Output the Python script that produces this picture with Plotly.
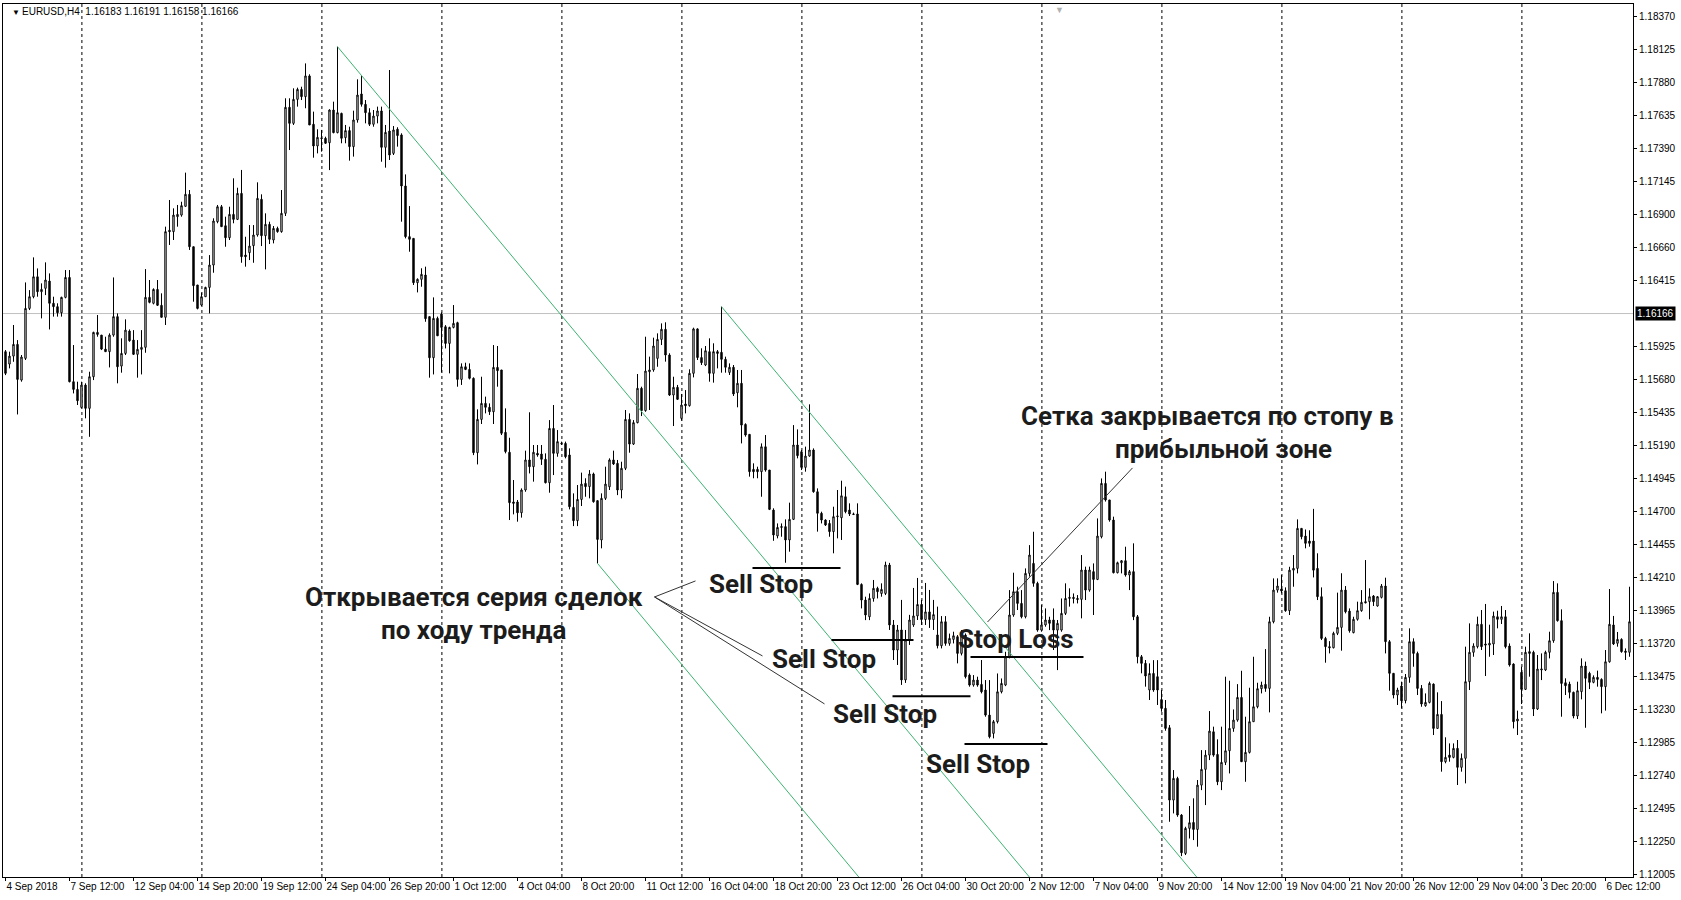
import plotly.graph_objects as go

# --- EURUSD H4 candles (price units) ---
opens = [
    1.15883, 1.15791, 1.15850, 1.15937, 1.15672, 1.15833, 1.16204, 1.16291, 1.16439, 1.16328,
    1.16353, 1.16407, 1.16242, 1.16217, 1.16172, 1.16286, 1.16434, 1.15660, 1.15603, 1.15469,
    1.15635, 1.15462, 1.15697, 1.16026, 1.16006, 1.15902, 1.15883, 1.16006, 1.16143, 1.15776,
    1.15870, 1.16036, 1.15969, 1.15863, 1.15900, 1.15915, 1.16286, 1.16242, 1.16345, 1.16227,
    1.16138, 1.16784, 1.16774, 1.16885, 1.16897, 1.16962, 1.17051, 1.16662, 1.16378, 1.16229,
    1.16291, 1.16360, 1.16526, 1.16848, 1.16959, 1.16818, 1.16729, 1.16902, 1.16865, 1.17058,
    1.16600, 1.16618, 1.16670, 1.16749, 1.17014, 1.16744, 1.16828, 1.16712, 1.16798, 1.16774,
    1.16910, 1.17697, 1.17578, 1.17756, 1.17830, 1.17776, 1.17930, 1.17571, 1.17410, 1.17469,
    1.17467, 1.17434, 1.17677, 1.17509, 1.17652, 1.17472, 1.17524, 1.17405, 1.17603, 1.17796,
    1.17719, 1.17657, 1.17571, 1.17632, 1.17670, 1.17400, 1.17521, 1.17355, 1.17534, 1.17492,
    1.17113, 1.16737, 1.16724, 1.16395, 1.16420, 1.16452, 1.16143, 1.15838, 1.16130, 1.16162,
    1.16068, 1.15944, 1.16063, 1.16098, 1.15677, 1.15771, 1.15751, 1.15685, 1.15133, 1.15380,
    1.15499, 1.15470, 1.15437, 1.15766, 1.15747, 1.15284, 1.15136, 1.14767, 1.14767, 1.14687,
    1.14856, 1.15079, 1.15029, 1.15128, 1.15123, 1.15084, 1.14910, 1.15313, 1.15128, 1.15202,
    1.15202, 1.15116, 1.14727, 1.14628, 1.14786, 1.14905, 1.14881, 1.14975, 1.14777, 1.14485,
    1.14794, 1.14880, 1.15079, 1.15054, 1.14856, 1.15017, 1.15380, 1.15197, 1.15356, 1.15611,
    1.15445, 1.15734, 1.15747, 1.15833, 1.15974, 1.16049, 1.15858, 1.15561, 1.15618, 1.15388,
    1.15494, 1.15482, 1.15722, 1.16052, 1.15839, 1.15784, 1.15883, 1.15722, 1.15883, 1.15878,
    1.15826, 1.15729, 1.15767, 1.15578, 1.15648, 1.15343, 1.15269, 1.15009, 1.15009, 1.14992,
    1.15177, 1.15004, 1.14707, 1.14515, 1.14578, 1.14584, 1.14485, 1.14638, 1.15190, 1.15140,
    1.15024, 1.15108, 1.15153, 1.14843, 1.14683, 1.14633, 1.14608, 1.14547, 1.14658, 1.14650,
    1.14806, 1.14707, 1.14678, 1.14678, 1.14155, 1.14039, 1.13915, 1.14051, 1.14126, 1.14088,
    1.14088, 1.14299, 1.13854, 1.13668, 1.13817, 1.13446, 1.13743, 1.13854, 1.13921, 1.14006,
    1.13894, 1.13951, 1.13894, 1.13780, 1.13700, 1.13878, 1.13717, 1.13747, 1.13767, 1.13643,
    1.13779, 1.13482, 1.13408, 1.13445, 1.13413, 1.13371, 1.13185, 1.13049, 1.13136, 1.13358,
    1.13408, 1.13618, 1.13928, 1.14101, 1.14014, 1.13915, 1.14237, 1.14311, 1.14163, 1.13816,
    1.13854, 1.13891, 1.13891, 1.13816, 1.13816, 1.13940, 1.14051, 1.14059, 1.14051, 1.14044,
    1.14262, 1.14113, 1.14250, 1.14192, 1.14509, 1.14905, 1.14782, 1.14633, 1.14242, 1.14316,
    1.14331, 1.14225, 1.14250, 1.13915, 1.13618, 1.13569, 1.13371, 1.13494, 1.13470, 1.13300,
    1.13235, 1.13091, 1.12554, 1.12715, 1.12443, 1.12158, 1.12344, 1.12388, 1.12336, 1.12665,
    1.12782, 1.12888, 1.13061, 1.12893, 1.12690, 1.12834, 1.12920, 1.13086, 1.13148, 1.13316,
    1.12839, 1.12908, 1.13136, 1.13247, 1.13381, 1.13413, 1.13383, 1.13878, 1.14113, 1.14121,
    1.14108, 1.13960, 1.14261, 1.14274, 1.14571, 1.14514, 1.14477, 1.14477, 1.14274, 1.14064,
    1.13754, 1.13693, 1.13685, 1.13792, 1.13836, 1.14113, 1.13957, 1.13797, 1.13896, 1.13960,
    1.14027, 1.14027, 1.14069, 1.13995, 1.14059, 1.14143, 1.13730, 1.13495, 1.13334, 1.13401,
    1.13292, 1.13465, 1.13730, 1.13643, 1.13383, 1.13255, 1.13279, 1.13415, 1.13086, 1.13190,
    1.12839, 1.12888, 1.12871, 1.12938, 1.12797, 1.12864, 1.13433, 1.13651, 1.13693, 1.13859,
    1.13713, 1.13705, 1.13713, 1.13915, 1.13896, 1.13915, 1.13698, 1.13564, 1.13141, 1.13502,
    1.13376, 1.13656, 1.13651, 1.13230, 1.13520, 1.13520, 1.13651, 1.13737, 1.14096, 1.13886,
    1.13425, 1.13415, 1.13354, 1.13178, 1.13359, 1.13549, 1.13495, 1.13428, 1.13465, 1.13450,
    1.13396, 1.13581, 1.13854, 1.13718, 1.13747, 1.13660, 1.13651,
]
highs = [
    1.15895, 1.15883, 1.16081, 1.15969, 1.15858, 1.16397, 1.16340, 1.16583, 1.16501, 1.16390,
    1.16546, 1.16464, 1.16291, 1.16242, 1.16291, 1.16489, 1.16489, 1.15932, 1.15660, 1.15660,
    1.15648, 1.15734, 1.16031, 1.16155, 1.16006, 1.15994, 1.16019, 1.16434, 1.16167, 1.15982,
    1.16123, 1.16048, 1.16043, 1.15969, 1.16043, 1.16496, 1.16415, 1.16353, 1.16415, 1.16316,
    1.16811, 1.17009, 1.16947, 1.16972, 1.16996, 1.17212, 1.17083, 1.16662, 1.16378, 1.16321,
    1.16365, 1.16600, 1.16873, 1.16972, 1.16972, 1.16885, 1.16959, 1.17170, 1.17100, 1.17232,
    1.16736, 1.16823, 1.16823, 1.17140, 1.17051, 1.16910, 1.16848, 1.16816, 1.16811, 1.17083,
    1.17764, 1.17764, 1.17838, 1.17843, 1.17850, 1.18023, 1.17942, 1.17665, 1.17534, 1.17529,
    1.17479, 1.17682, 1.17739, 1.18147, 1.17657, 1.17566, 1.17553, 1.17672, 1.17905, 1.17929,
    1.17751, 1.17690, 1.17677, 1.17702, 1.17702, 1.17566, 1.17974, 1.17558, 1.17549, 1.17504,
    1.17199, 1.16964, 1.16724, 1.16427, 1.16502, 1.16514, 1.16143, 1.16286, 1.16143, 1.16175,
    1.16080, 1.16068, 1.16229, 1.16105, 1.15796, 1.15801, 1.15796, 1.15692, 1.15455, 1.15697,
    1.15549, 1.15499, 1.15932, 1.15925, 1.15747, 1.15462, 1.15244, 1.14930, 1.14782, 1.14868,
    1.15148, 1.15433, 1.15190, 1.15190, 1.15190, 1.15128, 1.15375, 1.15487, 1.15301, 1.15215,
    1.15215, 1.15165, 1.14831, 1.14893, 1.14985, 1.14943, 1.15004, 1.14985, 1.14777, 1.14831,
    1.15029, 1.15091, 1.15148, 1.15079, 1.15066, 1.15450, 1.15425, 1.15375, 1.15717, 1.15623,
    1.15994, 1.15846, 1.15987, 1.16019, 1.16093, 1.16101, 1.15871, 1.15697, 1.15636, 1.15569,
    1.15598, 1.15752, 1.16061, 1.16056, 1.15908, 1.15925, 1.15982, 1.15945, 1.15895, 1.16217,
    1.15846, 1.15796, 1.15784, 1.15747, 1.15747, 1.15351, 1.15269, 1.15054, 1.15029, 1.15202,
    1.15264, 1.15004, 1.14720, 1.14608, 1.14608, 1.14638, 1.14762, 1.15338, 1.15306, 1.15153,
    1.15178, 1.15492, 1.15165, 1.14868, 1.14695, 1.14638, 1.14633, 1.14732, 1.14856, 1.14925,
    1.14881, 1.14757, 1.14688, 1.14757, 1.14163, 1.14064, 1.14088, 1.14188, 1.14138, 1.14163,
    1.14324, 1.14315, 1.13891, 1.13854, 1.14040, 1.13817, 1.13929, 1.14129, 1.14203, 1.14040,
    1.14166, 1.14114, 1.14040, 1.13990, 1.13920, 1.13920, 1.13790, 1.13804, 1.13779, 1.13816,
    1.13791, 1.13494, 1.13482, 1.13470, 1.13594, 1.13445, 1.13445, 1.13148, 1.13494, 1.13457,
    1.13655, 1.14113, 1.14242, 1.14138, 1.14113, 1.14274, 1.14447, 1.14546, 1.14175, 1.14002,
    1.13977, 1.13915, 1.13977, 1.13891, 1.14051, 1.14163, 1.14126, 1.14088, 1.14076, 1.14373,
    1.14287, 1.14287, 1.14311, 1.14645, 1.14942, 1.14992, 1.14782, 1.14658, 1.14324, 1.14336,
    1.14435, 1.14262, 1.14460, 1.13928, 1.13631, 1.13594, 1.13569, 1.13593, 1.13593, 1.13371,
    1.13297, 1.13111, 1.12777, 1.12727, 1.12450, 1.12356, 1.12510, 1.12567, 1.12703, 1.12925,
    1.12925, 1.13215, 1.13099, 1.13005, 1.13099, 1.13470, 1.13440, 1.13227, 1.13415, 1.13514,
    1.13173, 1.13388, 1.13618, 1.13425, 1.13433, 1.13675, 1.13915, 1.14200, 1.14200, 1.14225,
    1.14133, 1.14286, 1.14373, 1.14638, 1.14571, 1.14563, 1.14557, 1.14716, 1.14386, 1.14133,
    1.13766, 1.13734, 1.13804, 1.14094, 1.14238, 1.14143, 1.13977, 1.13915, 1.14027, 1.14113,
    1.14336, 1.14126, 1.14076, 1.14069, 1.14158, 1.14205, 1.13742, 1.13495, 1.13388, 1.13433,
    1.13490, 1.13829, 1.13755, 1.13656, 1.13408, 1.13346, 1.13433, 1.13420, 1.13354, 1.13289,
    1.13020, 1.12975, 1.12975, 1.13000, 1.12900, 1.13693, 1.13866, 1.13718, 1.13916, 1.13965,
    1.14010, 1.13856, 1.13953, 1.13960, 1.13995, 1.13965, 1.13717, 1.13569, 1.13218, 1.13544,
    1.13693, 1.13792, 1.13663, 1.13631, 1.13643, 1.13663, 1.13804, 1.14180, 1.14163, 1.13970,
    1.13458, 1.13433, 1.13359, 1.13433, 1.13606, 1.13582, 1.13507, 1.13480, 1.13515, 1.13458,
    1.13668, 1.14121, 1.13921, 1.13802, 1.13755, 1.13680, 1.14138,
]
lows = [
    1.15709, 1.15759, 1.15808, 1.15417, 1.15660, 1.15821, 1.16192, 1.16279, 1.16291, 1.16130,
    1.16303, 1.16048, 1.16143, 1.16143, 1.16143, 1.16279, 1.15655, 1.15573, 1.15487, 1.15462,
    1.15388, 1.15251, 1.15672, 1.15994, 1.15895, 1.15883, 1.15766, 1.15994, 1.15648, 1.15727,
    1.15858, 1.15957, 1.15858, 1.15690, 1.15714, 1.15875, 1.16242, 1.16234, 1.16222, 1.16138,
    1.16081, 1.16675, 1.16712, 1.16811, 1.16885, 1.16959, 1.16638, 1.16254, 1.16197, 1.16222,
    1.16291, 1.16167, 1.16469, 1.16836, 1.16811, 1.16662, 1.16712, 1.16836, 1.16860, 1.16543,
    1.16514, 1.16563, 1.16543, 1.16737, 1.16667, 1.16494, 1.16682, 1.16687, 1.16766, 1.16766,
    1.16890, 1.17380, 1.17566, 1.17702, 1.17751, 1.17690, 1.17566, 1.17323, 1.17355, 1.17368,
    1.17425, 1.17231, 1.17504, 1.17504, 1.17430, 1.17430, 1.17301, 1.17331, 1.17583, 1.17702,
    1.17578, 1.17558, 1.17553, 1.17578, 1.17293, 1.17249, 1.17306, 1.17343, 1.17405, 1.16848,
    1.16724, 1.16625, 1.16378, 1.16323, 1.16365, 1.16105, 1.15690, 1.15714, 1.15999, 1.15729,
    1.15907, 1.15722, 1.16056, 1.15623, 1.15636, 1.15746, 1.15677, 1.15115, 1.15046, 1.15346,
    1.15425, 1.15413, 1.15346, 1.15623, 1.15264, 1.15128, 1.14633, 1.14675, 1.14621, 1.14651,
    1.14843, 1.14979, 1.14918, 1.15103, 1.15042, 1.14905, 1.14836, 1.14967, 1.15103, 1.15190,
    1.15091, 1.14712, 1.14588, 1.14588, 1.14737, 1.14806, 1.14794, 1.14762, 1.14311, 1.14423,
    1.14782, 1.14856, 1.15042, 1.14818, 1.14794, 1.15004, 1.15133, 1.15190, 1.15351, 1.15405,
    1.15437, 1.15450, 1.15734, 1.15771, 1.15932, 1.15809, 1.15554, 1.15331, 1.15524, 1.15371,
    1.15425, 1.15475, 1.15692, 1.15821, 1.15784, 1.15776, 1.15660, 1.15653, 1.15759, 1.15727,
    1.15727, 1.15710, 1.15554, 1.15470, 1.15202, 1.15252, 1.14955, 1.14943, 1.14943, 1.14806,
    1.14992, 1.14707, 1.14479, 1.14497, 1.14509, 1.14316, 1.14398, 1.14633, 1.15091, 1.15004,
    1.14992, 1.15103, 1.14836, 1.14547, 1.14608, 1.14589, 1.14509, 1.14386, 1.14497, 1.14485,
    1.14683, 1.14663, 1.14670, 1.14150, 1.13977, 1.13890, 1.13890, 1.14027, 1.14051, 1.14064,
    1.14076, 1.13817, 1.13594, 1.13557, 1.13409, 1.13424, 1.13706, 1.13840, 1.13891, 1.13854,
    1.13854, 1.13832, 1.13817, 1.13680, 1.13680, 1.13700, 1.13700, 1.13717, 1.13569, 1.13628,
    1.13457, 1.13396, 1.13396, 1.13396, 1.13346, 1.13173, 1.13012, 1.13012, 1.13123, 1.13346,
    1.13400, 1.13606, 1.13915, 1.13965, 1.13903, 1.13903, 1.14213, 1.14138, 1.13804, 1.13804,
    1.13841, 1.13816, 1.13668, 1.13519, 1.13804, 1.13928, 1.13990, 1.14014, 1.14014, 1.13903,
    1.14039, 1.14101, 1.13928, 1.14187, 1.14497, 1.14770, 1.14621, 1.14237, 1.14237, 1.14237,
    1.14213, 1.14113, 1.13890, 1.13569, 1.13495, 1.13396, 1.13297, 1.13358, 1.13260, 1.13210,
    1.13069, 1.12393, 1.12455, 1.12430, 1.12138, 1.12146, 1.12269, 1.12257, 1.12208, 1.12628,
    1.12517, 1.12851, 1.12876, 1.12665, 1.12628, 1.12814, 1.12752, 1.13061, 1.13136, 1.12839,
    1.12690, 1.12900, 1.13136, 1.13235, 1.13346, 1.13358, 1.13205, 1.13866, 1.14094, 1.14089,
    1.13952, 1.13928, 1.14138, 1.14237, 1.14490, 1.14423, 1.14435, 1.14207, 1.14039, 1.13742,
    1.13574, 1.13643, 1.13680, 1.13779, 1.13663, 1.13940, 1.13797, 1.13792, 1.13886, 1.13952,
    1.14015, 1.13896, 1.13995, 1.13990, 1.14051, 1.13643, 1.13366, 1.13309, 1.13260, 1.13235,
    1.13272, 1.13425, 1.13544, 1.13334, 1.13247, 1.13247, 1.13272, 1.13037, 1.13086, 1.12765,
    1.12827, 1.12839, 1.12864, 1.12666, 1.12765, 1.12678, 1.13371, 1.13618, 1.13680, 1.13668,
    1.13475, 1.13618, 1.13631, 1.13829, 1.13861, 1.13680, 1.13545, 1.13086, 1.13037, 1.13267,
    1.13371, 1.13470, 1.13178, 1.13223, 1.13445, 1.13512, 1.13606, 1.13722, 1.13879, 1.13173,
    1.13334, 1.13309, 1.13161, 1.13156, 1.13302, 1.13091, 1.13378, 1.13421, 1.13396, 1.13198,
    1.13218, 1.13574, 1.13705, 1.13693, 1.13648, 1.13594, 1.13618,
]
closes = [
    1.15722, 1.15850, 1.15937, 1.15677, 1.15843, 1.16204, 1.16291, 1.16439, 1.16328, 1.16345,
    1.16415, 1.16242, 1.16217, 1.16172, 1.16286, 1.16434, 1.15660, 1.15603, 1.15519, 1.15635,
    1.15462, 1.15697, 1.16026, 1.16011, 1.15902, 1.15883, 1.16006, 1.16143, 1.15771, 1.15870,
    1.16043, 1.15964, 1.15863, 1.15900, 1.15915, 1.16286, 1.16249, 1.16345, 1.16227, 1.16138,
    1.16774, 1.16774, 1.16897, 1.16902, 1.16967, 1.17051, 1.16662, 1.16373, 1.16204, 1.16291,
    1.16360, 1.16526, 1.16853, 1.16959, 1.16811, 1.16729, 1.16902, 1.16865, 1.17058, 1.16588,
    1.16588, 1.16667, 1.16749, 1.17021, 1.16744, 1.16828, 1.16717, 1.16798, 1.16774, 1.16910,
    1.17697, 1.17578, 1.17756, 1.17830, 1.17776, 1.17930, 1.17566, 1.17410, 1.17474, 1.17467,
    1.17430, 1.17677, 1.17509, 1.17657, 1.17467, 1.17524, 1.17405, 1.17603, 1.17788, 1.17719,
    1.17657, 1.17571, 1.17632, 1.17670, 1.17400, 1.17511, 1.17343, 1.17529, 1.17487, 1.17113,
    1.16737, 1.16717, 1.16395, 1.16420, 1.16457, 1.16128, 1.15838, 1.16130, 1.16001, 1.16063,
    1.15944, 1.16063, 1.16093, 1.15677, 1.15771, 1.15751, 1.15685, 1.15133, 1.15380, 1.15499,
    1.15470, 1.15437, 1.15766, 1.15742, 1.15277, 1.15141, 1.14762, 1.14757, 1.14687, 1.14856,
    1.15079, 1.15029, 1.15136, 1.15116, 1.15084, 1.14910, 1.15313, 1.15128, 1.15215, 1.15200,
    1.15103, 1.14732, 1.14628, 1.14786, 1.14900, 1.14881, 1.14975, 1.14769, 1.14489, 1.14794,
    1.14900, 1.15079, 1.15049, 1.14856, 1.15017, 1.15380, 1.15197, 1.15356, 1.15611, 1.15445,
    1.15739, 1.15747, 1.15925, 1.15974, 1.16049, 1.15858, 1.15561, 1.15618, 1.15529, 1.15487,
    1.15482, 1.15722, 1.16052, 1.15839, 1.15801, 1.15890, 1.15722, 1.15883, 1.15870, 1.15826,
    1.15767, 1.15767, 1.15569, 1.15648, 1.15338, 1.15264, 1.14992, 1.14992, 1.14992, 1.15177,
    1.15004, 1.14712, 1.14522, 1.14578, 1.14584, 1.14485, 1.14638, 1.15190, 1.15111, 1.15024,
    1.15108, 1.15153, 1.14843, 1.14683, 1.14633, 1.14596, 1.14547, 1.14658, 1.14663, 1.14813,
    1.14695, 1.14678, 1.14675, 1.14155, 1.14039, 1.13928, 1.14051, 1.14126, 1.14101, 1.14118,
    1.14299, 1.13854, 1.13668, 1.13817, 1.13446, 1.13743, 1.13891, 1.13921, 1.14006, 1.13894,
    1.13951, 1.13894, 1.13931, 1.13700, 1.13878, 1.13717, 1.13754, 1.13774, 1.13643, 1.13779,
    1.13470, 1.13408, 1.13445, 1.13408, 1.13358, 1.13185, 1.13024, 1.13136, 1.13358, 1.13420,
    1.13618, 1.13928, 1.14101, 1.14014, 1.13915, 1.14237, 1.14373, 1.14163, 1.13816, 1.13854,
    1.13891, 1.13866, 1.13816, 1.13866, 1.13940, 1.14051, 1.14059, 1.14051, 1.14044, 1.14262,
    1.14113, 1.14262, 1.14192, 1.14514, 1.14905, 1.14782, 1.14633, 1.14242, 1.14316, 1.14331,
    1.14225, 1.14250, 1.13915, 1.13618, 1.13569, 1.13475, 1.13494, 1.13371, 1.13371, 1.13235,
    1.13086, 1.12554, 1.12715, 1.12443, 1.12163, 1.12344, 1.12386, 1.12336, 1.12665, 1.12782,
    1.12888, 1.13066, 1.12888, 1.12690, 1.12834, 1.12920, 1.13086, 1.13148, 1.13316, 1.12839,
    1.12908, 1.13136, 1.13247, 1.13381, 1.13408, 1.13383, 1.13878, 1.14113, 1.14143, 1.14106,
    1.13960, 1.14261, 1.14274, 1.14571, 1.14509, 1.14460, 1.14460, 1.14261, 1.14064, 1.13754,
    1.13693, 1.13685, 1.13792, 1.13836, 1.14113, 1.13952, 1.13811, 1.13896, 1.13960, 1.14022,
    1.14019, 1.14064, 1.14027, 1.14064, 1.14143, 1.13730, 1.13495, 1.13334, 1.13371, 1.13292,
    1.13465, 1.13730, 1.13643, 1.13383, 1.13267, 1.13279, 1.13420, 1.13086, 1.13190, 1.12839,
    1.12871, 1.12871, 1.12938, 1.12797, 1.12864, 1.13433, 1.13651, 1.13698, 1.13859, 1.13693,
    1.13705, 1.13718, 1.13920, 1.13896, 1.13915, 1.13693, 1.13557, 1.13136, 1.13156, 1.13376,
    1.13651, 1.13643, 1.13230, 1.13527, 1.13527, 1.13651, 1.13737, 1.14096, 1.13886, 1.13420,
    1.13403, 1.13354, 1.13178, 1.13366, 1.13549, 1.13458, 1.13428, 1.13465, 1.13450, 1.13396,
    1.13581, 1.13859, 1.13713, 1.13747, 1.13656, 1.13651, 1.13878,
]

# --- axes ---
x_tick_labels = [
    "4 Sep 2018", "7 Sep 12:00", "12 Sep 04:00", "14 Sep 20:00", "19 Sep 12:00",
    "24 Sep 04:00", "26 Sep 20:00", "1 Oct 12:00", "4 Oct 04:00", "8 Oct 20:00",
    "11 Oct 12:00", "16 Oct 04:00", "18 Oct 20:00", "23 Oct 12:00", "26 Oct 04:00",
    "30 Oct 20:00", "2 Nov 12:00", "7 Nov 04:00", "9 Nov 20:00", "14 Nov 12:00",
    "19 Nov 04:00", "21 Nov 20:00", "26 Nov 12:00", "29 Nov 04:00", "3 Dec 20:00",
    "6 Dec 12:00",
]
x_tick_bars = [0, 16, 32, 48, 64, 80, 96, 112, 128, 144, 160, 176, 192, 208, 224,
               240, 256, 272, 288, 304, 320, 336, 352, 368, 384, 400]
grid_bars = [19.1, 49.1, 79.1, 109.1, 139.1, 169.1, 199.1, 229.1,
             259.1, 289.1, 319.1, 349.1, 379.1]

y_tick_values = [1.18370, 1.18125, 1.17880, 1.17635, 1.17390, 1.17145, 1.16900,
                 1.16655, 1.16410, 1.15925, 1.15680, 1.15435, 1.15190, 1.14945,
                 1.14700, 1.14455, 1.14210, 1.13965, 1.13720, 1.13475, 1.13230,
                 1.12985, 1.12740, 1.12495, 1.12250, 1.12005]
y_tick_labels = ["1.18370", "1.18125", "1.17880", "1.17635", "1.17390", "1.17145",
                 "1.16900", "1.16660", "1.16415", "1.15925", "1.15680", "1.15435",
                 "1.15190", "1.14945", "1.14700", "1.14455", "1.14210", "1.13965",
                 "1.13720", "1.13475", "1.13230", "1.12985", "1.12740", "1.12495",
                 "1.12250", "1.12005"]

bid_price = 1.16166
header_text = "EURUSD,H4  1.16183 1.16191 1.16158 1.16166"
shift_marker_bar = 263.4

# --- drawings: trend channel (bar index, price) ---
channel_a_x = [83, 260]
channel_a_y = [1.18147, 1.11839]
channel_b_x = [148, 220]
channel_b_y = [1.14311, 1.11745]
channel_c_x = [179, 330]
channel_c_y = [1.16217, 1.10835]

# pending orders and stop level
sell_stop_price = [1.14277, 1.13743, 1.13324, 1.12971]
sell_stop_from = [186.75, 206.5, 221.75, 239.75]
sell_stop_to = [208.75, 227.0, 241.25, 260.5]
sell_stop_label_x = [188.75, 204.5, 219.75, 243.0]
sell_stop_label_y = [1.14158, 1.13602, 1.13193, 1.12822]
stop_loss_price = 1.13617
stop_loss_span = [241.25, 269.5]
stop_loss_label = (252.5, 1.13750)

# connector lines
fan_origin = (162.25, 1.14062)
fan_targets_x = [172.5, 189.25, 204.75]
fan_targets_y = [1.14181, 1.13624, 1.13268]
close_line_x = [245.5, 281.75]
close_line_y = [1.13876, 1.15020]

notes = [
    ("Открывается серия сделок", 117.0, 1.14062),
    ("по ходу тренда", 117.0, 1.13817),
    ("Сетка закрывается по стопу в", 300.5, 1.15406),
    ("прибыльной зоне", 304.5, 1.15161),
]

AXIS_FONT = dict(family="Liberation Sans, Arial, sans-serif", size=10, color="black")
NOTE_FONT = dict(family="Roboto, Open Sans, sans-serif", size=26, color="#1c1c1c", weight=700)
GREEN = "#3cb371"


def build_figure() -> go.Figure:
    """Wykres świecowy EURUSD H4 z kanałem i zleceniami Sell Stop."""
    bars = list(range(len(closes)))
    fig = go.Figure()

    fig.add_trace(go.Candlestick(
        x=bars, open=opens, high=highs, low=lows, close=closes,
        increasing=dict(line=dict(color="black", width=1), fillcolor="white"),
        decreasing=dict(line=dict(color="black", width=1), fillcolor="black"),
        whiskerwidth=0, hoverinfo="skip", showlegend=False,
    ))

    # kanał trendu
    for cx, cy in [(channel_a_x, channel_a_y), (channel_b_x, channel_b_y),
                   (channel_c_x, channel_c_y)]:
        fig.add_trace(go.Scatter(x=cx, y=cy, mode="lines", line=dict(color=GREEN, width=1),
                                 hoverinfo="skip", showlegend=False))

    shapes = []
    # pionowa siatka (przerywana)
    for g in grid_bars:
        shapes.append(dict(type="line", xref="x", yref="paper", x0=g, x1=g, y0=0, y1=1,
                           line=dict(color="black", width=1, dash="3px,3px"), layer="below"))
    # linia bid
    shapes.append(dict(type="line", xref="paper", yref="y", x0=0, x1=1, y0=bid_price,
                       y1=bid_price, line=dict(color="#c0c0c0", width=1), layer="below"))
    # poziomy Sell Stop i Stop Loss
    for p, a, b in zip(sell_stop_price, sell_stop_from, sell_stop_to):
        shapes.append(dict(type="line", xref="x", yref="y", x0=a, x1=b, y0=p, y1=p,
                           line=dict(color="black", width=2)))
    shapes.append(dict(type="line", xref="x", yref="y", x0=stop_loss_span[0],
                       x1=stop_loss_span[1], y0=stop_loss_price, y1=stop_loss_price,
                       line=dict(color="black", width=2)))
    # linie łączące
    for tx, ty in zip(fan_targets_x, fan_targets_y):
        shapes.append(dict(type="line", xref="x", yref="y", x0=fan_origin[0], y0=fan_origin[1],
                           x1=tx, y1=ty, line=dict(color="#333333", width=1)))
    shapes.append(dict(type="line", xref="x", yref="y", x0=close_line_x[0], y0=close_line_y[0],
                       x1=close_line_x[1], y1=close_line_y[1],
                       line=dict(color="#333333", width=1)))

    annotations = []
    for lx, ly in zip(sell_stop_label_x, sell_stop_label_y):
        annotations.append(dict(x=lx, y=ly, xref="x", yref="y", text="Sell Stop",
                                showarrow=False, font=NOTE_FONT))
    annotations.append(dict(x=stop_loss_label[0], y=stop_loss_label[1], xref="x", yref="y",
                            text="Stop Loss", showarrow=False, font=NOTE_FONT))
    for text, nx, ny in notes:
        annotations.append(dict(x=nx, y=ny, xref="x", yref="y", text=text,
                                showarrow=False, font=NOTE_FONT))
    # nagłówek, znacznik przesunięcia i etykieta bieżącej ceny
    annotations.append(dict(x=0.0045, y=0.991, xref="paper", yref="paper", text="▼",
                            showarrow=False, xanchor="left", yanchor="middle",
                            font=dict(size=8, color="black")))
    annotations.append(dict(x=0.0104, y=0.991, xref="paper", yref="paper", text=header_text,
                            showarrow=False, xanchor="left", yanchor="middle", font=AXIS_FONT))
    annotations.append(dict(x=shift_marker_bar, y=1, xref="x", yref="paper", text="▼",
                            showarrow=False, yanchor="top", yshift=3,
                            font=dict(size=9, color="#b0b0b0")))
    annotations.append(dict(x=1, y=bid_price, xref="paper", yref="y", text=f"{bid_price:.5f}",
                            showarrow=False, xanchor="left", yanchor="middle", xshift=2,
                            bgcolor="black", borderpad=1,
                            font=dict(family=AXIS_FONT["family"], size=10, color="white")))

    fig.update_layout(
        width=1681, height=900,
        margin=dict(l=3, r=48, t=4, b=23, autoexpand=False),
        paper_bgcolor="white", plot_bgcolor="white",
        showlegend=False, boxgap=0.5,
        shapes=shapes, annotations=annotations,
        xaxis=dict(
            range=[-0.625, 406.875], tickmode="array", tickvals=x_tick_bars,
            ticktext=x_tick_labels, tickangle=0, automargin=False,
            ticklabelposition="outside right", ticks="outside", ticklen=3, tickcolor="black",
            tickfont=AXIS_FONT, showgrid=False, zeroline=False, showline=True,
            linecolor="black", linewidth=1, mirror=True, rangeslider=dict(visible=False),
            fixedrange=True,
        ),
        yaxis=dict(
            side="right", range=[1.11983, 1.18464], tickmode="array", tickvals=y_tick_values,
            ticktext=y_tick_labels, ticks="outside", ticklen=3, tickcolor="black",
            automargin=False, tickfont=AXIS_FONT, showgrid=False, zeroline=False,
            showline=True, linecolor="black", linewidth=1, mirror=True, fixedrange=True,
        ),
    )
    return fig


fig = build_figure()
fig.write_html("out.html", config={"displayModeBar": False},
               post_script="document.body.style.margin='0';")
